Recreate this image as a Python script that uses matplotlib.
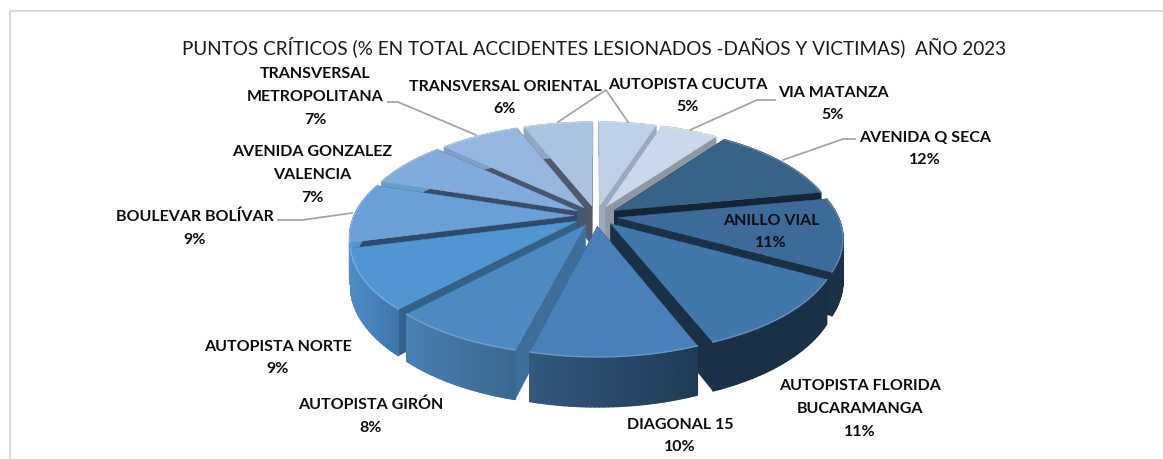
import numpy as np
import matplotlib
matplotlib.use('Agg')
import matplotlib.pyplot as plt
from matplotlib.collections import PolyCollection
from matplotlib.colors import to_rgb

title = 'PUNTOS CRÍTICOS (% EN TOTAL ACCIDENTES LESIONADOS -DAÑOS Y VICTIMAS)  AÑO 2023'
names = ['AUTOPISTA CUCUTA', 'VIA MATANZA', 'AVENIDA Q SECA', 'ANILLO VIAL',
         'AUTOPISTA FLORIDA\nBUCARAMANGA', 'DIAGONAL 15', 'AUTOPISTA GIRÓN',
         'AUTOPISTA NORTE', 'BOULEVAR BOLÍVAR', 'AVENIDA GONZALEZ\nVALENCIA',
         'TRANSVERSAL\nMETROPOLITANA', 'TRANSVERSAL ORIENTAL']
values = [5, 5, 12, 11, 11, 10, 8, 9, 9, 7, 7, 6]

top_colors = ['#BDD0E8', '#CBD7EA', '#376388', '#3C6A99', '#4277AB', '#4980B9',
              '#4E89C1', '#5195D3', '#6A9FD8', '#81ABDC', '#97B6DF', '#ACC2E3']
edge_colors = ['#9AA9BC', '#8E97A4', '#142537', '#1A3148', '#1A3047', '#1F3A55',
               '#3F6E9B', '#34618A', '#2F4A6B', '#394D68', '#46566E', '#4F5A6C']
rim_left = ['#9AA9BC', '#8E97A4', '#142537', '#1B3148', '#1A3047', '#33587E',
            '#4A7FB3', '#4F8CC6', '#5A96D0', '#6A9CCB', '#7F9FC8', '#8FA8C8']
rim_right = ['#9AA9BC', '#8E97A4', '#142537', '#1B3148', '#1A3047', '#1F3A55',
             '#3A678F', '#3F75AA', '#4F8CC6', '#6A9CCB', '#7F9FC8', '#8FA8C8']

label_pos = [(688, 96), (833, 104), (925, 149), (771, 232), (860, 409), (680, 436),
             (371, 416), (278, 358), (195, 228), (312, 175), (315, 97), (505, 98)]
leaders = [[(388, 102), (398, 102), (476, 135)],
           [(558, 122), (606, 90), (628, 122)],
           [(690, 130), (757, 100), (775, 100)],
           [(783, 160), (843, 139), (855, 139)],
           [(278, 220), (302, 220), (352, 213)]]

cx, cy = 596, 216
rad_x, rad_y = 220, 102.5
persp = 0.182
depth = 40
explode = 0.1


def project(u, v, drop=0.0):
    w = 1 + persp * v
    return cx + rad_x * u / w, cy - rad_y * v / w + drop / w


def mix(c1, c2, t):
    a, b = np.array(to_rgb(c1)), np.array(to_rgb(c2))
    return tuple(a + (b - a) * t)


fig = plt.figure(figsize=(11.63, 4.59), dpi=100)
ax = fig.add_axes([0, 0, 1, 1])
ax.set_xlim(0, 1163)
ax.set_ylim(459, 0)
ax.axis('off')

ax.plot([10, 10, 1163], [459, 11, 11], color='#DADADA', lw=1.5)

shares = np.array(values) / sum(values) * 2 * np.pi
ends = np.cumsum(shares)
starts = ends - shares
mids = (starts + ends) / 2

for i in np.argsort(-np.cos(mids)):
    th = np.linspace(starts[i], ends[i], 40)
    ox, oy = explode * np.sin(mids[i]), explode * np.cos(mids[i])
    u = ox + np.sin(th)
    v = oy + np.cos(th)

    # straight walls
    for k in (0, -1):
        a = project(ox, oy)
        b = project(u[k], v[k])
        c = project(u[k], v[k], depth)
        d = project(ox, oy, depth)
        ax.fill([a[0], b[0], c[0], d[0]], [a[1], b[1], c[1], d[1]],
                color=edge_colors[i], lw=0.3, zorder=2)

    # curved wall, shaded left to right
    tx, ty = project(u, v)
    bx, by = project(u, v, depth)
    quads, cols = [], []
    lo, hi = min(tx), max(tx)
    for k in range(len(th) - 1):
        quads.append([(tx[k], ty[k]), (tx[k + 1], ty[k + 1]), (bx[k + 1], by[k + 1]), (bx[k], by[k])])
        cols.append(mix(rim_left[i], rim_right[i], ((tx[k] + tx[k + 1]) / 2 - lo) / (hi - lo)))
    ax.add_collection(PolyCollection(quads, facecolors=cols, edgecolors=cols, linewidths=1.0, zorder=2))

    # top face and its bright edge
    a = project(ox, oy)
    ax.fill(np.r_[a[0], tx], np.r_[a[1], ty], color=top_colors[i], lw=0.3, zorder=2)
    ax.plot(tx, ty, color=mix(top_colors[i], '#FFFFFF', 0.2), lw=1.0, zorder=2)

for pts in leaders:
    ax.plot(*zip(*pts), color='#A6A6A6', lw=1.3, zorder=3)

ax.text(594, 47, title, ha='center', va='center', fontsize=13.55, color='#1A1A1A', family='Lato')
for name, val, (x, y) in zip(names, values, label_pos):
    ax.text(x, y, f'{name}\n{val}%', ha='center', va='center', fontsize=11.55, fontweight='bold',
            color='#0D0D0D', family='Lato', linespacing=1.78, zorder=4)

fig.savefig('out.png', dpi=100)
